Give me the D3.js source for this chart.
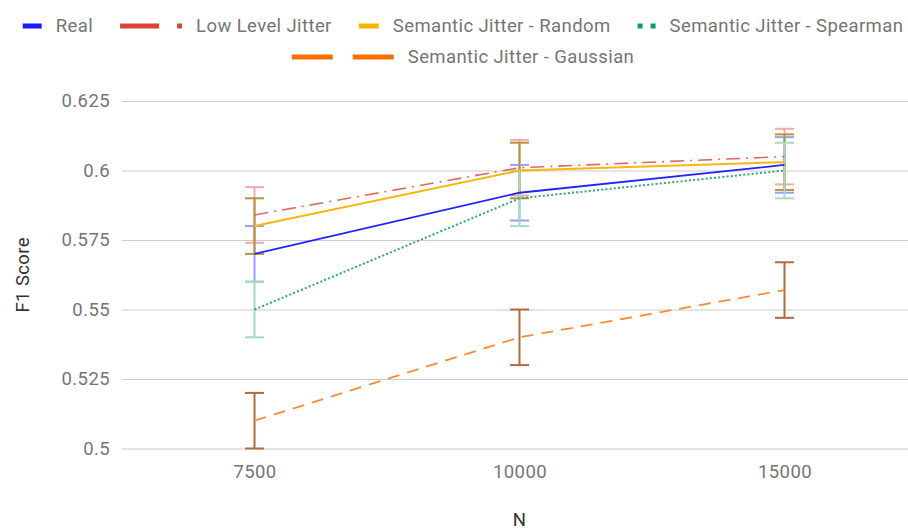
<!DOCTYPE html>
<html>
<head>
<meta charset="utf-8">
<script src="https://cdn.jsdelivr.net/npm/d3@7"></script>
<style>
  html, body { margin: 0; padding: 0; background: #fff; }
  svg { display: block; font-family: Roboto, "Noto Sans", sans-serif; }
  svg text { letter-spacing: 0.4px; }
</style>
</head>
<body>
<svg id="chart" width="908" height="531"></svg>
<script>
// --- Data ---
const categories = ["7500", "10000", "15000"];
const seriesNames = ["Real", "Low Level Jitter", "Semantic Jitter - Random", "Semantic Jitter - Spearman", "Semantic Jitter - Gaussian"];
const realValues = [0.570, 0.592, 0.602];
const lowLevelValues = [0.584, 0.601, 0.605];
const randomValues = [0.580, 0.600, 0.603];
const spearmanValues = [0.550, 0.590, 0.600];
const gaussianValues = [0.510, 0.540, 0.557];
const errorMargins = [0.01, 0.01, 0.01, 0.01, 0.01];
const yTicks = [0.5, 0.525, 0.55, 0.575, 0.6, 0.625];

const allValues = [realValues, lowLevelValues, randomValues, spearmanValues, gaussianValues];

// --- Styles (per series) ---
const styles = [
    { line: "#2323ff", legend: "#1a1aff", bar: "#9c9cff", width: 1.8, dash: null,
      swatch: [[0, 19]] },
    { line: "#e06a60", legend: "#db4437", bar: "#f4aaa6", width: 1.6, dash: "14,6,2,6",
      swatch: [[0, 39], [57, 62]] },
    { line: "#f6b710", legend: "#f4b400", bar: "#b8923c", width: 2, dash: null,
      swatch: [[0, 20]] },
    { line: "#31a86e", legend: "#0f9d58", bar: "#a3dbbf", width: 2, dash: "2,2.2",
      swatch: [[0, 5], [13, 18]] },
    { line: "#ff8a35", legend: "#ff6d01", bar: "#ae6b3c", width: 1.8, dash: "12,8",
      swatch: [[0, 41], [61, 102]] }
];

const svg = d3.select("#chart");
const fontSize = 18.5;

const x = d3.scalePoint().domain(categories).range([122, 917]).padding(0.5);
const y = d3.scaleLinear().domain([0.5, 0.625]).range([448.5, 101]);

// --- Gridlines + y labels ---
const yAxis = svg.append("g")
    .attr("transform", "translate(122,0)")
    .call(d3.axisLeft(y).tickValues(yTicks).tickSize(-800).tickPadding(12)
        .tickFormat(d => String(+d.toFixed(3))));
yAxis.select(".domain").remove();
yAxis.selectAll(".tick line").attr("stroke", "#cccccc").attr("stroke-width", 1.2);
yAxis.selectAll(".tick text")
    .attr("fill", "#757575").style("font-size", fontSize + "px")
    .style("font-family", "Roboto");

// --- x labels ---
const xAxis = svg.append("g")
    .attr("transform", "translate(0,448.5)")
    .call(d3.axisBottom(x).tickSize(0).tickPadding(16));
xAxis.select(".domain").remove();
xAxis.selectAll(".tick text")
    .attr("fill", "#757575").style("font-size", fontSize + "px")
    .style("font-family", "Roboto");

// --- Axis titles ---
svg.append("text")
    .attr("x", x("10000")).attr("y", 526)
    .attr("text-anchor", "middle")
    .attr("fill", "#333").style("font-size", fontSize + "px")
    .text("N");
svg.append("text")
    .attr("transform", `translate(29,${(y(0.5) + y(0.625)) / 2}) rotate(-90)`)
    .attr("text-anchor", "middle")
    .attr("fill", "#333").style("font-size", fontSize + "px")
    .text("F1 Score");

// --- Error bars ---
const capHalf = 9.5;
allValues.forEach((vals, i) => {
    const g = svg.append("g").attr("stroke", styles[i].bar).attr("stroke-width", 2);
    vals.forEach((v, j) => {
        const cx = x(categories[j]);
        const lo = y(v - errorMargins[i]), hi = y(v + errorMargins[i]);
        g.append("line").attr("x1", cx).attr("x2", cx).attr("y1", lo).attr("y2", hi);
        g.append("line").attr("x1", cx - capHalf).attr("x2", cx + capHalf).attr("y1", lo).attr("y2", lo);
        g.append("line").attr("x1", cx - capHalf).attr("x2", cx + capHalf).attr("y1", hi).attr("y2", hi);
    });
});

// --- Lines ---
const line = d3.line()
    .x((d, j) => x(categories[j]))
    .y(d => y(d));
allValues.forEach((vals, i) => {
    svg.append("path")
        .datum(vals)
        .attr("fill", "none")
        .attr("stroke", styles[i].line)
        .attr("stroke-width", styles[i].width)
        .attr("stroke-dasharray", styles[i].dash)
        .attr("d", line);
});

// --- Legend ---
const legendRows = [[0, 1, 2, 3], [4]];
const rowY = [26, 57];
const swatchGap = 14, itemGap = 27, legendCenter = 463;
legendRows.forEach((row, r) => {
    const lg = svg.append("g");
    let cursor = 0;
    row.forEach(i => {
        const item = lg.append("g").attr("transform", `translate(${cursor},0)`);
        const sw = styles[i].swatch;
        sw.forEach(s => {
            item.append("line")
                .attr("x1", s[0]).attr("x2", s[1])
                .attr("y1", rowY[r]).attr("y2", rowY[r])
                .attr("stroke", styles[i].legend).attr("stroke-width", 5);
        });
        const swW = sw[sw.length - 1][1];
        const t = item.append("text")
            .attr("x", swW + swatchGap).attr("y", rowY[r])
            .attr("dy", "0.35em")
            .attr("fill", "#757575").style("font-size", fontSize + "px")
            .text(seriesNames[i]);
        cursor += swW + swatchGap + t.node().getComputedTextLength() + itemGap;
    });
    const total = cursor - itemGap;
    lg.attr("transform", `translate(${legendCenter - total / 2},0)`);
});
</script>
</body>
</html>
